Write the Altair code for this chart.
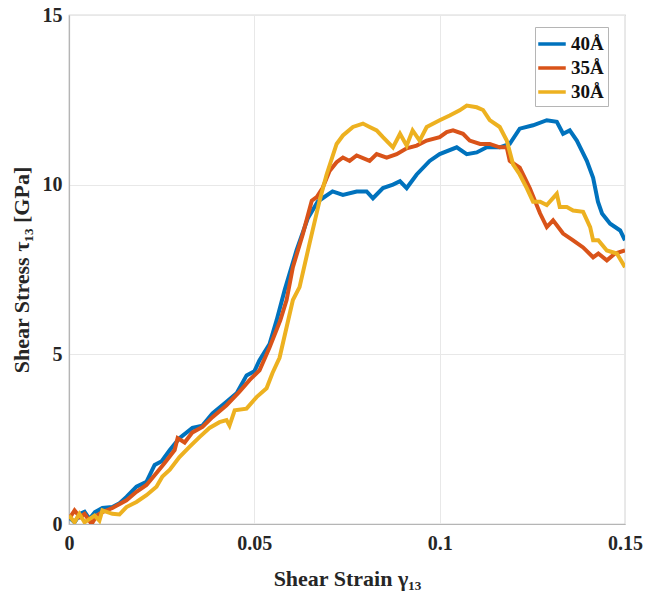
import altair as alt
import pandas as pd

# 40 Å
s40 = [0.0000, 0.0015, 0.0030, 0.0042, 0.0055, 0.0070, 0.0090, 0.0117, 0.0135, 0.0155,
       0.0182, 0.0209, 0.0231, 0.0250, 0.0272, 0.0298, 0.0333, 0.0360, 0.0387, 0.0425,
       0.0452, 0.0479, 0.0500, 0.0514, 0.0541, 0.0560, 0.0582, 0.0614, 0.0644, 0.0671,
       0.0684, 0.0711, 0.0739, 0.0776, 0.0803, 0.0820, 0.0847, 0.0874, 0.0893, 0.0911,
       0.0938, 0.0973, 0.1000, 0.1046, 0.1073, 0.1100, 0.1127, 0.1162, 0.1189, 0.1216,
       0.1252, 0.1289, 0.1316, 0.1333, 0.1351, 0.1370, 0.1397, 0.1414, 0.1427, 0.1438,
       0.1460, 0.1487, 0.1500]
t40 = [0.20, 0.05, 0.30, 0.36, 0.15, 0.35, 0.47, 0.50, 0.60, 0.80,
       1.10, 1.24, 1.74, 1.85, 2.18, 2.53, 2.83, 2.90, 3.26, 3.60,
       3.85, 4.38, 4.50, 4.83, 5.30, 6.00, 6.90, 8.07, 9.00, 9.50,
       9.60, 9.80, 9.70, 9.80, 9.80, 9.60, 9.90, 10.00, 10.10, 9.90,
       10.30, 10.70, 10.90, 11.10, 10.90, 10.95, 11.10, 11.10, 11.20, 11.65,
       11.75, 11.90, 11.85, 11.50, 11.60, 11.30, 10.70, 10.20, 9.50, 9.15,
       8.85, 8.65, 8.36]

# 35 Å
s35 = [0.0000, 0.0015, 0.0030, 0.0042, 0.0061, 0.0075, 0.0090, 0.0117, 0.0155, 0.0182,
       0.0209, 0.0236, 0.0258, 0.0285, 0.0293, 0.0312, 0.0333, 0.0360, 0.0387, 0.0425,
       0.0460, 0.0487, 0.0514, 0.0541, 0.0570, 0.0587, 0.0604, 0.0631, 0.0655, 0.0668,
       0.0684, 0.0703, 0.0722, 0.0739, 0.0757, 0.0776, 0.0811, 0.0830, 0.0857, 0.0884,
       0.0911, 0.0938, 0.0965, 0.1000, 0.1019, 0.1036, 0.1063, 0.1081, 0.1109, 0.1135,
       0.1162, 0.1181, 0.1189, 0.1216, 0.1243, 0.1271, 0.1289, 0.1306, 0.1333, 0.1360,
       0.1387, 0.1414, 0.1428, 0.1451, 0.1473, 0.1500]
t35 = [0.15, 0.40, 0.20, 0.30, 0.00, 0.25, 0.35, 0.47, 0.70, 0.95,
       1.15, 1.50, 1.80, 2.18, 2.53, 2.40, 2.70, 2.86, 3.15, 3.50,
       3.90, 4.24, 4.53, 5.20, 6.00, 6.60, 7.57, 8.55, 9.53, 9.63,
       9.90, 10.40, 10.66, 10.80, 10.70, 10.86, 10.70, 10.90, 10.80, 10.90,
       11.07, 11.15, 11.30, 11.40, 11.55, 11.60, 11.50, 11.30, 11.20, 11.20,
       11.10, 11.10, 10.70, 10.50, 9.90, 9.15, 8.75, 8.95, 8.56, 8.36,
       8.15, 7.86, 7.97, 7.77, 7.97, 8.06]

# 30 Å
s30 = [0.0000, 0.0015, 0.0028, 0.0042, 0.0069, 0.0082, 0.0090, 0.0117, 0.0136, 0.0155,
       0.0182, 0.0209, 0.0236, 0.0252, 0.0272, 0.0298, 0.0325, 0.0352, 0.0379, 0.0406,
       0.0425, 0.0433, 0.0447, 0.0479, 0.0506, 0.0533, 0.0549, 0.0568, 0.0604, 0.0622,
       0.0649, 0.0676, 0.0695, 0.0722, 0.0739, 0.0766, 0.0793, 0.0811, 0.0830, 0.0847,
       0.0874, 0.0893, 0.0911, 0.0927, 0.0946, 0.0965, 0.1000, 0.1027, 0.1054, 0.1073,
       0.1100, 0.1117, 0.1135, 0.1162, 0.1181, 0.1198, 0.1216, 0.1235, 0.1252, 0.1271,
       0.1289, 0.1316, 0.1324, 0.1343, 0.1360, 0.1387, 0.1406, 0.1414, 0.1428, 0.1451,
       0.1478, 0.1500]
t30 = [0.25, 0.05, 0.30, 0.05, 0.25, 0.10, 0.40, 0.30, 0.28, 0.50,
       0.65, 0.85, 1.10, 1.40, 1.60, 1.97, 2.27, 2.56, 2.83, 3.00,
       3.06, 2.90, 3.35, 3.40, 3.74, 4.00, 4.45, 4.90, 6.60, 6.98,
       8.27, 9.53, 10.30, 11.20, 11.45, 11.70, 11.80, 11.70, 11.60, 11.40,
       11.10, 11.50, 11.15, 11.60, 11.30, 11.70, 11.90, 12.04, 12.19, 12.33,
       12.28, 12.20, 11.90, 11.70, 11.30, 10.60, 10.30, 9.90, 9.50, 9.50,
       9.40, 9.73, 9.34, 9.34, 9.24, 9.20, 8.75, 8.36, 8.36, 8.06,
       7.97, 7.57]

series_names = ["40Å", "35Å", "30Å"]
series_colors = ["#0072BD", "#D95319", "#EDB120"]
x_ticks = [0, 0.05, 0.1, 0.15]
y_ticks = [0, 5, 10, 15]

frames = []
for name, xs, ys in zip(series_names, [s40, s35, s30], [t40, t35, t30]):
    frames.append(pd.DataFrame({"strain": xs, "stress": ys, "series": name}))
df = pd.concat(frames, ignore_index=True)

FONT = "Liberation Serif, Times New Roman, serif"

lines = alt.Chart(df).mark_line(strokeWidth=4, clip=True).encode(
    x=alt.X("strain:Q",
            scale=alt.Scale(domain=[0, 0.15], nice=False, zero=False),
            axis=alt.Axis(values=x_ticks,
                          labelExpr="format(datum.value, '.2~f')",
                          title="Shear Strain γ₁₃")),
    y=alt.Y("stress:Q",
            scale=alt.Scale(domain=[0, 15], nice=False),
            axis=alt.Axis(values=y_ticks,
                          labelExpr="format(datum.value, 'd')",
                          title="Shear Stress τ₁₃ [GPa]")),
    color=alt.Color("series:N",
                    scale=alt.Scale(domain=series_names, range=series_colors),
                    legend=alt.Legend(title=None, orient="none",
                                      legendX=466, legendY=12)),
    detail="series:N",
    order="strain:Q",
)

chart = lines.properties(
    width=556, height=509,
    autosize=alt.AutoSizeParams(type="none"),
    padding={"left": 69, "top": 15, "right": 22, "bottom": 75},
).configure(
    font=FONT,
    background="white",
).configure_view(
    stroke="#b5b5b5", strokeWidth=1.2,
).configure_axis(
    labelFont=FONT, labelFontSize=20, labelFontWeight="bold", labelColor="#262626",
    titleFont=FONT, titleFontSize=22, titleFontWeight="bold", titleColor="#262626",
    grid=True, gridColor="#e8e8e8", gridWidth=1,
    domainColor="#b5b5b5", domainWidth=1.2,
    tickSize=0, labelFlush=False,
).configure_axisX(
    labelPadding=9, titlePadding=15,
).configure_axisY(
    labelPadding=7, titlePadding=9,
).configure_legend(
    labelFont=FONT, labelFontSize=19, labelFontWeight="bold", labelColor="#111111",
    symbolType="M-1.25,0H1.25", symbolStrokeWidth=3.5, symbolSize=484,
    strokeColor="#b5b5b5", fillColor="white", padding=4,
    rowPadding=1, labelOffset=6,
)

chart.save("out.html", embed_options={"renderer": "svg", "actions": False})
